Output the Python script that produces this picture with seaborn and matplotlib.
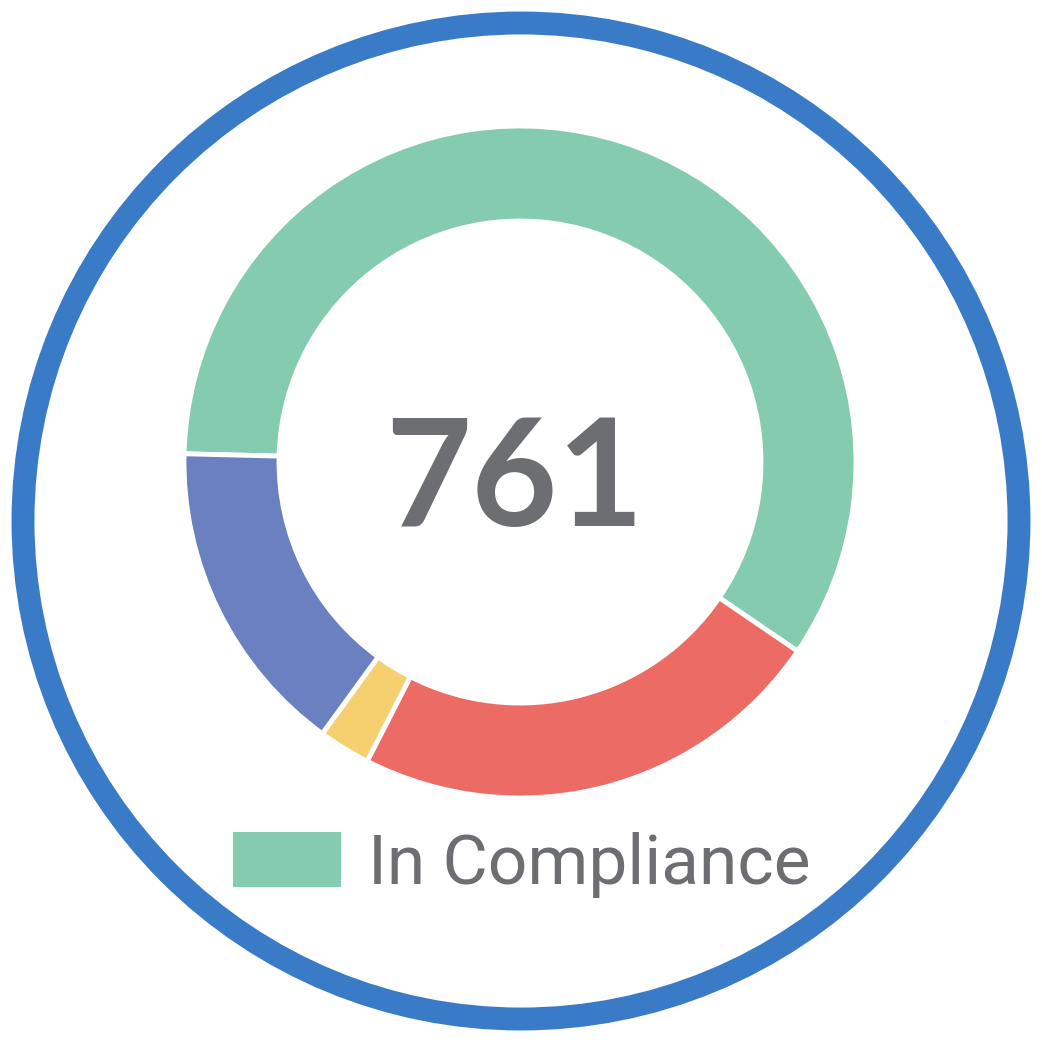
import matplotlib.pyplot as plt
import seaborn as sns
from matplotlib.patches import Circle, Patch

# data
categories = ["In Compliance", "Out of Compliance", "Pending", "Not Reported"]
counts = [450, 175, 19, 117]
colors = ["#84CBB0", "#EC6B65", "#F6D06E", "#6A80C0"]
total = sum(counts)

sns.set_style("white")

fig = plt.figure(figsize=(10.42, 10.42), dpi=100)
ax = fig.add_axes([0, 0, 1, 1])

# outer ring
ring = Circle((521, 521), 498, fill=False, edgecolor="#3A7BC8", linewidth=16.5)
ax.add_patch(ring)

wedges, _ = ax.pie(
    counts,
    colors=sns.color_palette(colors),
    startangle=178.6,
    counterclock=False,
    center=(520, 580),
    radius=336,
    wedgeprops=dict(width=95, edgecolor="white", linewidth=3.5),
    frame=True,
)
ax.set_xlim(0, 1042)
ax.set_ylim(0, 1042)
ax.set_aspect("equal")
ax.axis("off")

ax.text(514, 559, f"{total}", ha="center", va="center",
        fontsize=107, fontweight="bold", color="#6D6E71", family=["Lato", "DejaVu Sans"])

handle = Patch(facecolor=colors[0], edgecolor="none")
leg = ax.legend(
    [handle], [categories[0]],
    loc="center", bbox_to_anchor=(522, 177), bbox_transform=ax.transData,
    frameon=False, handlelength=1.55, handleheight=0.84, handletextpad=0.4,
    prop={"family": ["Roboto", "DejaVu Sans"], "size": 50},
    labelcolor="#6D6E71",
)

fig.savefig("out.png", dpi=100)
